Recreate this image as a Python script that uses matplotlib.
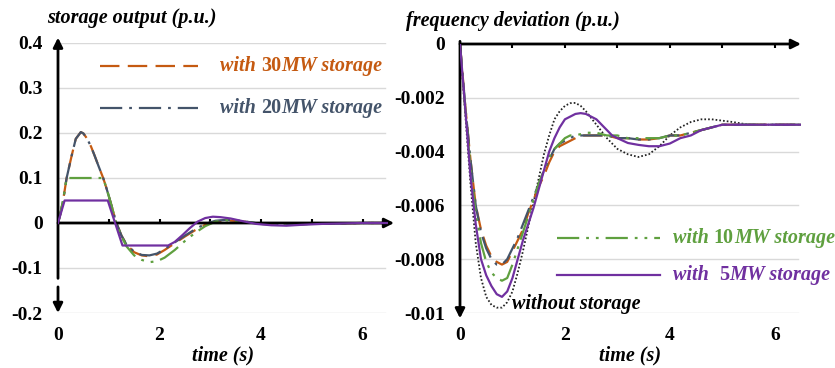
import matplotlib
matplotlib.use("Agg")
import matplotlib.pyplot as plt

plt.rcParams['font.family'] = ['Liberation Serif', 'DejaVu Serif']
plt.rcParams['font.weight'] = 'bold'
plt.rcParams['lines.scale_dashes'] = False

# ---- storage output (p.u.) ----
t30 = [0, 0.05, 0.1, 0.17, 0.27, 0.35, 0.45, 0.5, 0.57, 0.65, 0.72, 0.8, 0.89,
       0.95, 1.0, 1.07, 1.14, 1.25, 1.35, 1.5, 1.65, 1.8, 1.95, 2.1, 2.3, 2.5, 2.7,
       2.9, 3.1, 3.3, 3.6, 4.0, 4.5, 5.0, 5.5, 6.0, 6.5]
p30 = [0, 0.022, 0.05, 0.1, 0.15, 0.187, 0.202, 0.199, 0.188, 0.17, 0.15, 0.126,
       0.1, 0.079, 0.06, 0.032, 0.003, -0.028, -0.048, -0.065, -0.072, -0.074,
       -0.07, -0.06, -0.045, -0.03, -0.016, -0.004, 0.003, 0.006, 0.004, -0.002,
       -0.004, -0.002, -0.001, 0, 0]
p20 = [0, 0.022, 0.05, 0.1, 0.15, 0.187, 0.202, 0.199, 0.188, 0.17, 0.15, 0.126,
       0.1, 0.079, 0.06, 0.032, 0.003, -0.028, -0.048, -0.064, -0.071, -0.072,
       -0.068, -0.058, -0.043, -0.028, -0.014, -0.002, 0.005, 0.007, 0.005, -0.002,
       -0.004, -0.002, -0.001, 0, 0]
t10 = [0, 0.05, 0.1, 0.17, 0.4, 0.6, 0.89, 0.95, 1.0, 1.07, 1.14, 1.25, 1.35, 1.5,
       1.65, 1.8, 1.95, 2.1, 2.3, 2.5, 2.7, 2.9, 3.1, 3.3, 3.6, 4.0, 4.5, 5.0, 5.5,
       6.0, 6.5]
p10 = [0, 0.022, 0.05, 0.1, 0.1, 0.1, 0.1, 0.079, 0.06, 0.032, 0.003, -0.03, -0.052,
       -0.072, -0.082, -0.087, -0.085, -0.077, -0.06, -0.04, -0.022, -0.007, 0.003,
       0.006, 0.004, -0.002, -0.004, -0.002, -0.001, 0, 0]
t5 = [0, 0.13, 0.98, 1.27, 2.17, 2.3, 2.45, 2.6, 2.75, 2.9, 3.05, 3.2, 3.4, 3.6,
      3.9, 4.2, 4.5, 4.8, 5.2, 5.6, 6.0, 6.5]
p5 = [0, 0.05, 0.05, -0.05, -0.05, -0.042, -0.027, -0.011, 0.003, 0.011, 0.014,
      0.013, 0.01, 0.005, -0.002, -0.005, -0.006, -0.004, -0.002, -0.001, 0, 0]

# ---- frequency deviation (p.u.) ----
tf = [0, 0.1, 0.2, 0.3, 0.4, 0.5, 0.6, 0.7, 0.8, 0.9, 1.0, 1.1, 1.2, 1.3, 1.4, 1.5,
      1.6, 1.7, 1.8, 1.9, 2.0, 2.1, 2.2, 2.3, 2.4, 2.5, 2.6, 2.7, 2.8, 2.9, 3.0,
      3.2, 3.4, 3.6, 3.8, 4.0, 4.2, 4.4, 4.6, 4.8, 5.0, 5.2, 5.5, 6.0, 6.5]
f_none = [0, -0.0026, -0.0052, -0.0074, -0.0087, -0.0094, -0.0097, -0.0098, -0.0098,
          -0.0096, -0.0092, -0.0085, -0.0077, -0.0068, -0.0059, -0.005, -0.0041,
          -0.0034, -0.0028, -0.0025, -0.0023, -0.0022, -0.00219, -0.0023, -0.0025,
          -0.00275, -0.003, -0.00325, -0.0035, -0.0037, -0.0039,
          -0.0041, -0.0042, -0.0041, -0.0038, -0.0034, -0.0031, -0.0029, -0.0028,
          -0.0028, -0.00285, -0.0029, -0.003, -0.003, -0.003]
f5 = [0, -0.0024, -0.0049, -0.0067, -0.008, -0.0086, -0.009, -0.0093, -0.0094,
      -0.0092, -0.0087, -0.008, -0.0073, -0.0067, -0.0061, -0.0054, -0.0047,
      -0.004, -0.0035, -0.0031, -0.0028, -0.0027, -0.0026, -0.00257, -0.0026,
      -0.0027, -0.0028, -0.003, -0.0032, -0.0034, -0.0035,
      -0.00368, -0.00375, -0.0038, -0.0038, -0.0037, -0.0035, -0.0034, -0.0032,
      -0.0031, -0.003, -0.003, -0.003, -0.003, -0.003]
f10 = [0, -0.0024, -0.0046, -0.0063, -0.0074, -0.0081, -0.0085, -0.0087, -0.0088,
       -0.0087, -0.0082, -0.0076, -0.007, -0.0064, -0.0058, -0.0052, -0.0047,
       -0.0042, -0.0039, -0.0037, -0.0035, -0.0034, -0.0034, -0.00335, -0.0033,
       -0.0033, -0.0033, -0.00335, -0.0034, -0.0034, -0.0034,
       -0.0035, -0.0035, -0.0035, -0.0035, -0.0034, -0.0034, -0.0033, -0.0032,
       -0.0031, -0.003, -0.003, -0.003, -0.003, -0.003]
f30 = [0, -0.0023, -0.0043, -0.006, -0.0069, -0.0075, -0.0079, -0.0081, -0.0082,
       -0.0081, -0.0077, -0.0073, -0.0069, -0.0063, -0.0058, -0.0053, -0.0049,
       -0.0044, -0.004, -0.0038, -0.0037, -0.0036, -0.0035, -0.0034, -0.0034,
       -0.0034, -0.0034, -0.0034, -0.0034, -0.00345, -0.0035,
       -0.0035, -0.00355, -0.00355, -0.0035, -0.0034, -0.0034, -0.0033, -0.0032,
       -0.0031, -0.003, -0.003, -0.003, -0.003, -0.003]
f20 = [0, -0.0023, -0.0043, -0.006, -0.007, -0.0076, -0.008, -0.0082, -0.0082,
       -0.008, -0.0076, -0.0072, -0.0067, -0.0062, -0.0057, -0.0052, -0.0047,
       -0.0043, -0.0039, -0.0037, -0.0036, -0.0035, -0.0034, -0.0034, -0.0034,
       -0.0034, -0.0034, -0.0034, -0.0034, -0.00345, -0.0035,
       -0.0035, -0.00355, -0.00355, -0.0035, -0.0034, -0.0034, -0.0033, -0.0032,
       -0.0031, -0.003, -0.003, -0.003, -0.003, -0.003]

left_yticks = [-0.2, -0.1, 0, 0.1, 0.2, 0.3, 0.4]
right_yticks = [0, -0.002, -0.004, -0.006, -0.008, -0.01]
xticks = [0, 2, 4, 6]

C30, C20, C10, C5 = '#C55A11', '#44546A', '#5FA03F', '#7030A0'
S30 = dict(color=C30, lw=1.6, dashes=[14, 6])
S20 = dict(color=C20, lw=1.6, dashes=[16, 5, 2, 5])
S10 = dict(color=C10, lw=1.6, dashes=[16, 5, 2, 5, 2, 5])
S5 = dict(color=C5, lw=1.6)
SN = dict(color='#222222', lw=1.3, dashes=[1.2, 1.5])

fig = plt.figure(figsize=(8.35, 3.68), dpi=100)
ax1 = fig.add_axes([58 / 835, 1 - 313 / 368, 330 / 835, 270 / 368])
ax2 = fig.add_axes([460 / 835, 1 - 313 / 368, 341 / 835, 269 / 368])

arrow = dict(arrowstyle='-|>', lw=2, color='black', mutation_scale=14,
             shrinkA=0, shrinkB=0)
TXT = 14.5


def mixed_label(ax, x, y, parts, color, size=TXT):
    # label made of italic words and upright numbers, laid side by side
    prev = None
    for txt, style in parts:
        if prev is None:
            prev = ax.text(x, y, txt, color=color, fontsize=size, style=style,
                           fontweight='bold', va='center', ha='left')
        else:
            prev = ax.annotate(txt, xy=(1, 0.5), xycoords=prev, color=color,
                               fontsize=size, style=style, fontweight='bold',
                               va='center', ha='left')


def frame(ax, ymin, ymax, grid_vals, yticks, ylabels):
    for s in ax.spines.values():
        s.set_visible(False)
    ax.set_xlim(0, 6.5)
    ax.set_ylim(ymin, ymax)
    for g in grid_vals:
        ax.axhline(g, xmin=0, xmax=6.45 / 6.5, color='#D9D9D9', lw=1, zorder=0)
    ax.set_xticks(xticks)
    ax.set_xticklabels([str(v) for v in xticks], fontsize=14, fontweight='bold')
    ax.set_yticks(yticks)
    ax.set_yticklabels(ylabels, fontsize=14, fontweight='bold')
    ax.tick_params(length=0, pad=10)
    ax.tick_params(axis='y', pad=11)
    ax.set_xlabel('time (s)', fontsize=TXT, style='italic', fontweight='bold',
                  labelpad=1)


# left panel
frame(ax1, -0.2, 0.4, [0.4, 0.3, 0.2, 0.1, -0.1, -0.2], left_yticks,
      ['-0.2', '-0.1', '0', '0.1', '0.2', '0.3', '0.4'])
ax1.plot(t30, p30, **S30, zorder=3)
ax1.plot(t30, p20, **S20, zorder=3)
ax1.plot(t10, p10, **S10, zorder=3)
ax1.plot(t5, p5, **S5, zorder=4)
ax1.annotate('', xy=(6.62, 0), xytext=(0, 0), arrowprops=arrow, annotation_clip=False)
ax1.annotate('', xy=(0, 0.412), xytext=(0, -0.123), arrowprops=arrow, annotation_clip=False)
ax1.annotate('', xy=(0, -0.2), xytext=(0, -0.142), arrowprops=arrow, annotation_clip=False)
ax1.vlines(range(1, 7), 0, 0.008, color='black', lw=1.5)
ax1.text(-0.22, 0.455, 'storage output (p.u.)', fontsize=TXT, style='italic',
         fontweight='bold', va='center', ha='left')

ax1.plot([0.83, 2.76], [0.349, 0.349], **S30)
ax1.plot([0.83, 2.76], [0.256, 0.256], **S20)
mixed_label(ax1, 3.2, 0.349, [('with ', 'italic'), ('30', 'normal'),
                              ('MW storage', 'italic')], C30)
mixed_label(ax1, 3.2, 0.256, [('with ', 'italic'), ('20', 'normal'),
                              ('MW storage', 'italic')], C20)

# right panel
frame(ax2, -0.01, 0, [-0.002, -0.004, -0.006, -0.008, -0.01], right_yticks,
      ['0', '-0.002', '-0.004', '-0.006', '-0.008', '-0.01'])
ax2.plot(tf, f_none, **SN, zorder=3)
ax2.plot(tf, f30, **S30, zorder=3)
ax2.plot(tf, f20, **S20, zorder=3)
ax2.plot(tf, f10, **S10, zorder=3)
ax2.plot(tf, f5, **S5, zorder=4)
ax2.annotate('', xy=(6.5, 0), xytext=(0, 0), arrowprops=arrow, annotation_clip=False)
ax2.annotate('', xy=(0, -0.0102), xytext=(0, 0.0001), arrowprops=arrow,
             annotation_clip=False)
ax2.vlines(range(1, 7), -0.00015, 0, color='black', lw=1.5)
ax2.text(-1.02, 0.00085, 'frequency deviation (p.u.)', fontsize=TXT, style='italic',
         fontweight='bold', va='center', ha='left')

ax2.plot([1.85, 3.81], [-0.00722, -0.00722], **S10)
ax2.plot([1.85, 3.81], [-0.00859, -0.00859], **S5)
mixed_label(ax2, 4.06, -0.00722, [('with ', 'italic'), ('10', 'normal'),
                                  ('MW storage', 'italic')], C10)
mixed_label(ax2, 4.06, -0.00859, [('with  ', 'italic'), ('5', 'normal'),
                                  ('MW storage', 'italic')], C5)
ax2.text(1.0, -0.00967, 'without storage', fontsize=TXT, style='italic',
         fontweight='bold', va='center', ha='left', color='black')

fig.savefig('out.png', dpi=100)
